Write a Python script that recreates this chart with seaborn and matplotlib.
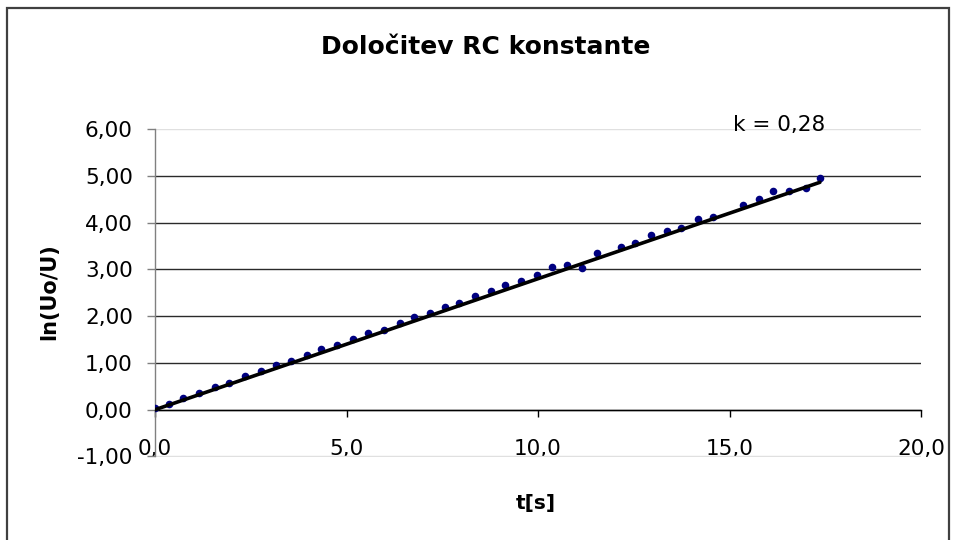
import numpy as np
import pandas as pd
import matplotlib
matplotlib.use("Agg")
import matplotlib.pyplot as plt
import seaborn as sns
from matplotlib.patches import Rectangle

# ---- data ----
t_s = [0.00, 0.37, 0.74, 1.15, 1.57, 1.94, 2.35, 2.77, 3.15, 3.55, 3.97,
       4.33, 4.76, 5.18, 5.55, 5.97, 6.39, 6.76, 7.17, 7.57, 7.95, 8.36,
       8.77, 9.15, 9.56, 9.97, 10.36, 10.76, 11.14, 11.55, 12.17, 12.53,
       12.96, 13.37, 13.73, 14.17, 14.58, 15.35, 15.78, 16.14, 16.56,
       17.00, 17.36]
ln_ratio = [0.03, 0.12, 0.24, 0.36, 0.48, 0.58, 0.71, 0.83, 0.96, 1.04, 1.16,
            1.30, 1.38, 1.51, 1.64, 1.71, 1.86, 1.98, 2.07, 2.20, 2.29, 2.42,
            2.54, 2.66, 2.75, 2.88, 3.04, 3.10, 3.03, 3.35, 3.48, 3.57,
            3.73, 3.82, 3.89, 4.07, 4.11, 4.38, 4.50, 4.67, 4.67,
            4.74, 4.96]
k_value = 0.28
x_ticks = [0, 5, 10, 15, 20]
x_tick_labels = ["0,0", "5,0", "10,0", "15,0", "20,0"]
y_ticks = [-1, 0, 1, 2, 3, 4, 5, 6]
y_tick_labels = ["-1,00", "0,00", "1,00", "2,00", "3,00", "4,00", "5,00", "6,00"]
title = "Določitev RC konstante"
x_label = "t[s]"
y_label = "ln(Uo/U)"
k_label = "k = 0,28"

df = pd.DataFrame({"t": t_s, "y": ln_ratio})

# trendline y = k * t over the measured range
t_end = max(t_s)
trend = pd.DataFrame({"t": [0.0, t_end], "y": [0.0, k_value * t_end]})

sns.set_style("white")
plt.rcParams["font.family"] = ["DejaVu Sans"]
plt.rcParams["text.color"] = "black"
plt.rcParams["xtick.color"] = "black"
plt.rcParams["ytick.color"] = "black"
plt.rcParams["xtick.labelcolor"] = "black"
plt.rcParams["ytick.labelcolor"] = "black"

W, H = 955, 540
fig = plt.figure(figsize=(W / 100, H / 100), dpi=100)
x0, x1 = 155, 921
ytop, ybot = 129, 456.5
ax = fig.add_axes([x0 / W, 1 - ybot / H, (x1 - x0) / W, (ybot - ytop) / H])

sns.scatterplot(data=df, x="t", y="y", ax=ax, color="#000080", s=30,
                edgecolor="#000080", linewidth=0, zorder=3)
sns.lineplot(data=trend, x="t", y="y", ax=ax, color="black", linewidth=2.6,
             zorder=4)

ax.set_xlim(0, 20)
ax.set_ylim(-1, 6)
ax.set_xticks(x_ticks)
ax.set_xticklabels(x_tick_labels)
ax.set_yticks(y_ticks)
ax.set_yticklabels(y_tick_labels)
ax.set_xlabel("")
ax.set_ylabel("")

# grid lines
ax.yaxis.grid(True, color="#2a2a2a", linewidth=1.0)
ax.xaxis.grid(False)
for val, gl in zip(y_ticks, ax.get_ygridlines()):
    if val in (-1, 6):
        gl.set_color("#e0e0e0")
ax.set_axisbelow(True)

# spines
for side in ("top", "right"):
    ax.spines[side].set_visible(False)
ax.spines["bottom"].set_position(("data", 0))
ax.spines["bottom"].set_color("black")
ax.spines["bottom"].set_linewidth(1.0)
ax.spines["left"].set_color("#808080")
ax.spines["left"].set_linewidth(1.0)

ax.tick_params(axis="x", direction="out", length=5, width=1, color="black",
               labelsize=15.5, pad=16, bottom=True, labelcolor="black")
ax.tick_params(axis="y", direction="out", length=6, width=1, color="#808080",
               labelsize=15.5, pad=10, left=True, labelcolor="black")

ax.text(16.3, 6.08, k_label, fontsize=15.5, ha="center", va="center",
        color="black")

fig.text(486 / W, 1 - 47 / H, title, fontsize=18, fontweight="bold",
         ha="center", va="center", color="black")
fig.text(49 / W, 1 - 292 / H, y_label, fontsize=15, fontweight="bold",
         rotation=90, ha="center", va="center", color="black")
fig.text(536 / W, 1 - 503 / H, x_label, fontsize=14.5, fontweight="bold",
         ha="center", va="center", color="black")

# outer chart border
fig.patches.append(Rectangle((7 / W, -0.05), (949 - 7) / W, 1.05 - 8 / H,
                             transform=fig.transFigure, fill=False,
                             edgecolor="#404040", linewidth=1.6))

fig.savefig("out.png", dpi=100)
